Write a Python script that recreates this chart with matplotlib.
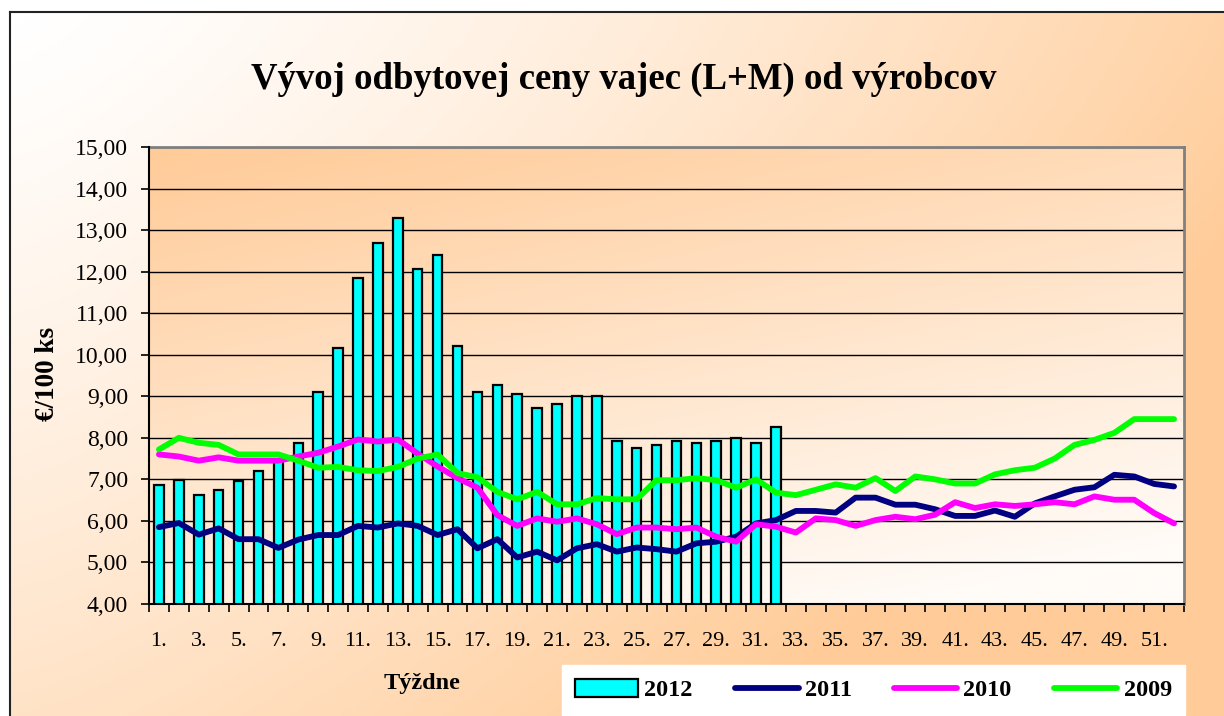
import numpy as np
import matplotlib
matplotlib.use("Agg")
import matplotlib.pyplot as plt
from matplotlib.colors import LinearSegmentedColormap
from matplotlib.ticker import FuncFormatter, FixedLocator

# ---------------- data ----------------
weeks = list(range(1, 53))
tick_labels = [f"{w}." for w in weeks]

y2012 = [6.87, 6.98, 6.62, 6.75, 6.97, 7.20, 7.45, 7.88, 9.10, 10.15,
         11.84, 12.68, 13.30, 12.06, 12.40, 10.20, 9.10, 9.27, 9.05, 8.72,
         8.82, 9.00, 9.00, 7.93, 7.76, 7.82, 7.93, 7.88, 7.93, 7.99,
         7.88, 8.27]

y2011 = [5.85, 5.95, 5.67, 5.82, 5.56, 5.56, 5.35, 5.55, 5.66, 5.66,
         5.88, 5.84, 5.94, 5.88, 5.66, 5.80, 5.34, 5.56, 5.12, 5.26,
         5.05, 5.34, 5.44, 5.26, 5.36, 5.32, 5.26, 5.46, 5.50, 5.62,
         5.94, 6.02, 6.24, 6.24, 6.20, 6.56, 6.56, 6.39, 6.39, 6.28,
         6.12, 6.12, 6.25, 6.10, 6.42, 6.59, 6.75, 6.81, 7.11, 7.07,
         6.89, 6.83]

y2010 = [7.60, 7.55, 7.45, 7.53, 7.45, 7.45, 7.45, 7.55, 7.64, 7.79,
         7.96, 7.91, 7.96, 7.62, 7.31, 7.03, 6.80, 6.14, 5.88, 6.06,
         5.98, 6.06, 5.92, 5.68, 5.84, 5.84, 5.80, 5.84, 5.62, 5.50,
         5.92, 5.86, 5.72, 6.06, 6.02, 5.88, 6.02, 6.10, 6.04, 6.15,
         6.45, 6.31, 6.40, 6.36, 6.40, 6.45, 6.40, 6.59, 6.51, 6.51,
         6.19, 5.94]

y2009 = [7.72, 8.00, 7.88, 7.83, 7.60, 7.60, 7.60, 7.45, 7.28, 7.30,
         7.22, 7.20, 7.30, 7.50, 7.60, 7.15, 7.05, 6.70, 6.52, 6.70,
         6.40, 6.40, 6.55, 6.52, 6.52, 6.98, 6.98, 7.03, 6.98, 6.80,
         7.00, 6.68, 6.62, 6.75, 6.88, 6.80, 7.03, 6.72, 7.07, 7.00,
         6.90, 6.90, 7.12, 7.22, 7.28, 7.50, 7.83, 7.95, 8.12, 8.45,
         8.45, 8.45]

series_names = ["2012", "2011", "2010", "2009"]
title = "Vývoj odbytovej ceny vajec (L+M) od výrobcov"
ylabel = "€/100 ks"
xlabel = "Týždne"

# ---------------- styling ----------------
SERIF = ["Liberation Serif", "DejaVu Serif"]
plt.rcParams["font.family"] = SERIF

W, H = 1224, 716
fig = plt.figure(figsize=(W / 100, H / 100), dpi=100)
fig.patch.set_facecolor("white")

# chart-area background gradient (white at top-left -> orange)
bg = fig.add_axes([10 / W, 0, 1 - 10 / W, (H - 12) / H], zorder=-10)
nx, ny = 300, 200
gx = np.linspace(0, 1, nx)
gy = np.linspace(0, 1, ny)  # 0 = top
GX, GY = np.meshgrid(gx, gy)
t = np.clip(0.85 * GX ** 1.3 + 0.55 * GY ** 1.2, 0, 1)
cmap_bg = LinearSegmentedColormap.from_list("bg", ["#FFFFFF", "#FFCC99"])
bg.imshow(t, cmap=cmap_bg, aspect="auto", extent=[0, 1, 1, 0], vmin=0, vmax=1)
bg.set_xlim(0, 1)
bg.set_ylim(1, 0)
bg.set_xticks([])
bg.set_yticks([])
for s in ["right", "bottom"]:
    bg.spines[s].set_visible(False)
for s in ["top", "left"]:
    bg.spines[s].set_color("#222222")
    bg.spines[s].set_linewidth(1.5)

# main axes
left, right, top, bottom = 149, 1184, 147, 604
ax = fig.add_axes([left / W, 1 - bottom / H, (right - left) / W, (bottom - top) / H])

# plot-area gradient (orange top-left -> near white bottom-right)
px = np.linspace(0, 1, 300)
py = np.linspace(0, 1, 200)  # 0 = top
PX, PY = np.meshgrid(px, py)
tp = np.clip(0.75 * PY + 0.35 * PX, 0, 1)
cmap_pa = LinearSegmentedColormap.from_list("pa", ["#FFCB98", "#FFFBF7"])
ax.imshow(tp, cmap=cmap_pa, aspect="auto", extent=[0, 1, 0, 1],
          transform=ax.transAxes, zorder=0, vmin=0, vmax=1)

x_all = np.arange(len(weeks))
x12 = np.arange(len(y2012))

ax.yaxis.grid(True, color="black", linewidth=1.0, zorder=1)
ax.set_axisbelow(True)

h12 = ax.bar(x12, y2012, width=0.48, color="#00FFFF", edgecolor="black",
             linewidth=1.6, zorder=2, label=series_names[0])
h11, = ax.plot(x_all, y2011, color="#000080", linewidth=4.2, solid_capstyle="round",
               solid_joinstyle="round", zorder=3, label=series_names[1])
h10, = ax.plot(x_all, y2010, color="#FF00FF", linewidth=4.2, solid_capstyle="round",
               solid_joinstyle="round", zorder=3, label=series_names[2])
h09, = ax.plot(x_all, y2009, color="#00FF00", linewidth=4.2, solid_capstyle="round",
               solid_joinstyle="round", zorder=3, label=series_names[3])

ax.set_xlim(-0.5, len(weeks) - 0.5)
ax.set_ylim(4, 15)
ax.set_yticks(np.arange(4, 16, 1))
ax.yaxis.set_major_formatter(FuncFormatter(lambda v, p: f"{v:.2f}".replace(".", ",")))

ax.xaxis.set_major_locator(FixedLocator(x_all[::2]))
ax.set_xticklabels(tick_labels[::2])
ax.xaxis.set_minor_locator(FixedLocator(np.arange(-0.5, len(weeks), 1.0)))
ax.tick_params(axis="x", which="major", length=0, pad=20, labelsize=16)
ax.tick_params(axis="x", which="minor", length=6, width=1.2, direction="out", color="black")
ax.tick_params(axis="y", which="major", length=6, width=1.2, pad=9, labelsize=17)

for s in ["left", "bottom"]:
    ax.spines[s].set_color("black")
    ax.spines[s].set_linewidth(1.5)
for s in ["top", "right"]:
    ax.spines[s].set_color("#808080")
    ax.spines[s].set_linewidth(2.0)
ax.spines["left"].set_zorder(4)
ax.spines["bottom"].set_zorder(4)

fig.text(624 / W, 1 - 79 / H, title, ha="center", va="center",
         fontsize=26.5, fontweight="bold")
fig.text(48 / W, 1 - 374 / H, ylabel, ha="center", va="center", rotation=90,
         fontsize=19.5, fontweight="bold")
fig.text(422 / W, 1 - 683 / H, xlabel, ha="center", va="center",
         fontsize=17.5, fontweight="bold")

leg = fig.legend([h12, h11, h10, h09], series_names, loc="center", ncol=4,
                 bbox_to_anchor=(873.5 / W, 1 - 690 / H),
                 prop={"weight": "bold", "size": 17.5},
                 frameon=True, fancybox=False, handlelength=2.6,
                 handleheight=0.75, handletextpad=0.25, columnspacing=1.75,
                 borderpad=0.55)
leg.get_frame().set_facecolor("white")
leg.get_frame().set_edgecolor("white")
leg.get_frame().set_alpha(1.0)

fig.savefig("out.png", dpi=100)
